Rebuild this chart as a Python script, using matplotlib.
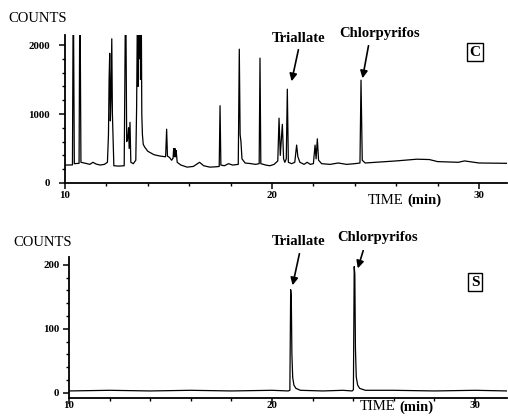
import matplotlib
matplotlib.use("Agg")
import matplotlib.pyplot as plt
from matplotlib.ticker import MultipleLocator

plt.rcParams['font.family'] = ['Liberation Serif', 'DejaVu Serif']

# ---------------- data ----------------
# Panel C: sample chromatogram (time in min, counts)
top_time = [10.00, 10.36, 10.40, 10.45, 10.68, 10.72, 10.77, 11.00, 11.20, 11.35, 11.50, 11.70, 11.90,
            12.05, 12.10, 12.13, 12.16, 12.19, 12.22, 12.26, 12.29, 12.32, 12.36, 12.60, 12.86,
            12.93, 12.98, 13.03, 13.07, 13.10, 13.14, 13.18, 13.30, 13.42, 13.46, 13.50, 13.53,
            13.56, 13.59, 13.62, 13.65, 13.68, 13.71, 13.74, 13.78, 13.85, 14.00, 14.30, 14.60,
            14.86, 14.91, 14.95, 15.05, 15.15, 15.22, 15.25, 15.28, 15.31, 15.34, 15.37, 15.42,
            15.60, 15.90, 16.20, 16.50, 16.70, 17.00, 17.30, 17.45, 17.49, 17.53, 17.70, 17.90,
            18.10, 18.37, 18.42, 18.46, 18.50, 18.55, 18.70, 19.00, 19.20, 19.38, 19.42, 19.46,
            19.70, 19.90, 20.10, 20.28, 20.34, 20.40, 20.50, 20.56, 20.62, 20.69, 20.74, 20.79,
            20.95, 21.10, 21.19, 21.25, 21.35, 21.55, 21.70, 21.85, 22.00, 22.08, 22.13, 22.19,
            22.25, 22.40, 22.80, 23.20, 23.60, 24.00, 24.25, 24.30, 24.36, 24.50, 25.00, 26.00,
            27.00, 27.60, 28.00, 29.00, 29.30, 30.00, 31.40]
top_counts = [260, 262, 3000, 280, 285, 3000, 300, 285, 270, 300, 275, 260, 270,
              300, 700, 1500, 1880, 900, 1200, 2090, 1000, 700, 250, 245, 250,
              3000, 600, 650, 800, 500, 880, 300, 280, 330, 1100, 2600, 1400,
              3000, 1800, 3000, 1500, 2800, 1000, 700, 560, 520, 460, 410, 390,
              380, 780, 390, 370, 330, 360, 500, 380, 500, 380, 470, 300,
              260, 230, 240, 300, 250, 230, 235, 240, 1120, 260, 250, 280,
              260, 270, 1940, 700, 600, 350, 290, 280, 270, 280, 1810, 280,
              260, 250, 270, 320, 940, 400, 850, 350, 300, 350, 1360, 300,
              280, 300, 550, 380, 300, 270, 300, 270, 280, 550, 350, 640,
              330, 280, 270, 290, 270, 280, 290, 1490, 330, 290, 300, 320,
              345, 340, 310, 300, 320, 290, 285]

# Panel S: standard chromatogram
bot_time = [10.00, 12.00, 14.00, 16.00, 18.00, 20.00, 20.80, 20.88, 20.92, 20.95, 20.98, 21.02,
            21.08, 21.18, 21.40, 22.50, 23.50, 23.95, 24.01, 24.05, 24.08, 24.11, 24.15, 24.22,
            24.32, 24.60, 26.00, 28.00, 30.00, 31.60]
bot_counts = [3, 4, 3, 4, 3, 4, 3, 4, 161, 150, 60, 24,
              12, 7, 4, 3, 4, 3, 5, 197, 185, 70, 25, 12,
              7, 4, 4, 3, 4, 3]

x_major = [10, 20, 30]
top_y_major = [0, 1000, 2000]
bot_y_major = [0, 100, 200]

W, H = 508, 416
fig = plt.figure(figsize=(W / 100, H / 100), dpi=100)


def fx(x):
    return x / W


def fy(y):
    return 1 - y / H


def add_axes_px(left, top, right, bottom):
    return fig.add_axes([fx(left), fy(bottom), (right - left) / W, (bottom - top) / H])


def style(ax, ymajor, yminor, ypad, xpad):
    for s in ['top', 'right']:
        ax.spines[s].set_visible(False)
    for s in ['left', 'bottom']:
        ax.spines[s].set_linewidth(1.3)
    ax.set_xticks(x_major)
    ax.xaxis.set_minor_locator(MultipleLocator(2))
    ax.set_yticks(ymajor)
    ax.yaxis.set_minor_locator(MultipleLocator(yminor))
    ax.tick_params(which='major', length=4, width=1.1, labelsize=7.8)
    ax.tick_params(which='minor', length=2.5, width=1.0)
    ax.tick_params(axis='y', which='major', pad=ypad)
    ax.tick_params(axis='x', which='major', pad=xpad)
    for lab in ax.get_xticklabels() + ax.get_yticklabels():
        lab.set_fontweight('bold')


# ---------------- top panel ----------------
ax1 = add_axes_px(65, 35, 507, 183)
ax1.plot(top_time, top_counts, color='black', lw=0.9)
ax1.set_xlim(10, 10 + (507 - 65) / 20.7)
ax1.set_ylim(0, 2145)
style(ax1, top_y_major, 200, ypad=7, xpad=2)

# ---------------- bottom panel ----------------
ax2 = add_axes_px(69, 257, 507, 398)
ax2.plot(bot_time, bot_counts, color='black', lw=0.9)
ax2.set_xlim(10, 10 + (507 - 69) / 20.3)
ax2.set_ylim(-8, 212)
style(ax2, bot_y_major, 20, ypad=3, xpad=-2)

# ---------------- texts ----------------
def ftext(x, y, s, **kw):
    fig.text(fx(x), fy(y), s, ha='center', va='center', **kw)


def farrow(x0, y0, x1, y1):
    fig.add_artist(matplotlib.patches.FancyArrowPatch(
        (fx(x0), fy(y0)), (fx(x1), fy(y1)), transform=fig.transFigure,
        arrowstyle='-|>', mutation_scale=11, color='black', lw=1.2))


ftext(38, 19, 'COUNTS', fontsize=10.5)
ftext(43, 242, 'COUNTS', fontsize=10.5)

ftext(299, 38, 'Triallate', fontsize=10.5, fontweight='bold')
ftext(380, 33, 'Chlorpyrifos', fontsize=10.5, fontweight='bold')
farrow(299, 47, 291, 84)
farrow(369, 43, 362, 81)

ftext(299, 241, 'Triallate', fontsize=10.5, fontweight='bold')
ftext(378, 238, 'Chlorpyrifos', fontsize=10.5, fontweight='bold')
farrow(300, 251, 292, 288)
farrow(364, 248, 357, 271)

for xx, yy in ((386, 200), (378, 407)):
    fig.text(fx(xx), fy(yy), 'TIME', ha='center', va='center', fontsize=10.5)
    fig.text(fx(xx + 38), fy(yy), '(min)', ha='center', va='center', fontsize=10.5,
             fontweight='bold')

box = dict(boxstyle='square,pad=0.15', fc='white', ec='black', lw=1.0)
ftext(475, 52, 'C', fontsize=11, fontweight='bold', bbox=box)
ftext(475, 282, 'S', fontsize=11, fontweight='bold', bbox=box)

fig.savefig('out.png', dpi=100)
